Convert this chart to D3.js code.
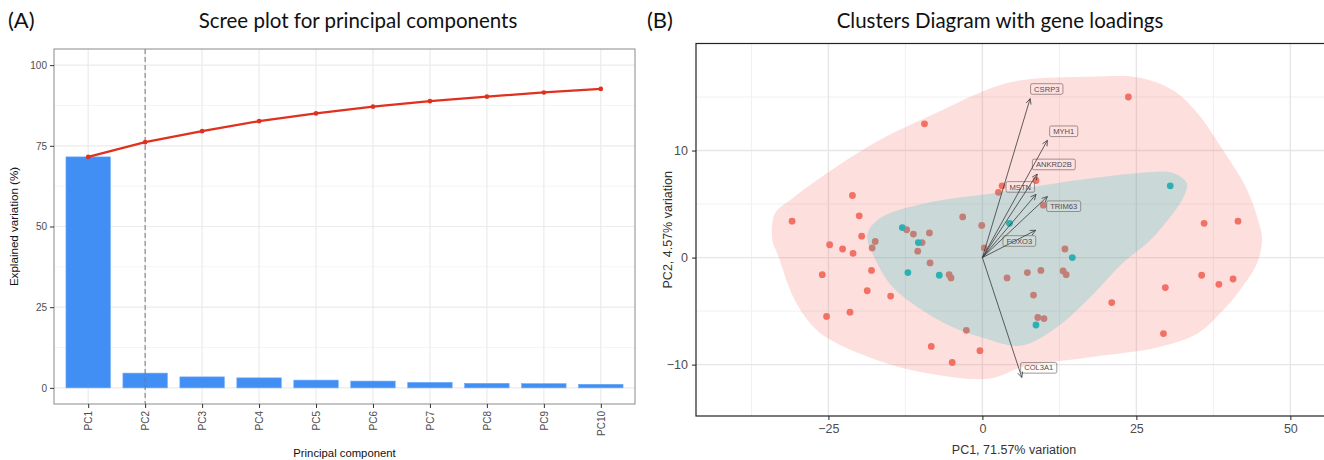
<!DOCTYPE html>
<html><head><meta charset="utf-8">
<script src="https://cdn.jsdelivr.net/npm/d3@7"></script>
<style>
body{margin:0;background:#fff;}
svg{display:block;}
text{font-family:"Liberation Sans",Arial,sans-serif;}
.ttl{font-family:Lato,"Open Sans",sans-serif;}
</style></head>
<body>
<svg id="c" width="1324" height="460"></svg>
<script>
// ---------- Data: scree plot ----------
const pcs = ["PC1","PC2","PC3","PC4","PC5","PC6","PC7","PC8","PC9","PC10"];
const variance = [71.57, 4.57, 3.4, 3.1, 2.4, 2.1, 1.7, 1.4, 1.3, 1.1];
const screeTicks = [0, 25, 50, 75, 100];
const screeMinor = [12.5, 37.5, 62.5, 87.5];
const cutoffPC = "PC2";

// ---------- Data: biplot ----------
const redX = [-9.4,-21.1,-30.9,-20.0,-19.6,-24.8,-22.7,-21.0,-12.3,-11.2,-8.6,-3.2,-0.1,-9.8,-17.4,-17.9,-10.5,-8.5,-5.4,-5.1,-26.0,-18.0,-18.7,-14.9,-25.3,-21.5,-2.6,-8.3,-4.9,-0.4,0.3,2.6,3.2,8.7,9.9,13.4,4.0,7.3,9.5,13.1,13.6,8.3,9.0,10.0,21.0,29.7,29.4,35.6,38.4,40.7,23.7,36.0,41.5];
const redY = [12.5,5.8,3.4,3.9,2.0,1.2,0.8,0.4,2.6,2.2,2.3,3.8,3.0,1.4,1.5,0.9,0.6,-0.5,-1.6,-1.9,-1.6,-1.2,-3.1,-3.6,-5.5,-5.1,-6.8,-8.3,-9.8,-8.7,0.9,6.1,6.7,7.2,4.9,0.8,-1.9,-1.4,-1.2,-1.25,-1.6,-3.5,-5.6,-5.7,-4.2,-2.8,-7.1,-1.65,-2.5,-2.0,15.0,3.2,3.4];
const tealX = [-13.0,-10.4,-12.1,-7.0,4.4,14.6,8.7,30.5];
const tealY = [2.8,1.4,-1.4,-1.65,3.2,0.0,-6.3,6.7];

// hull outlines (data units)
const redHullX = [-34.1,-33.7,-30.7,-25.2,-16.6,-9.0,1.25,6.6,17.5,25.6,31.0,34.9,39.1,43.0,45.1,45.4,44.6,41.8,39.1,34.9,28.4,17.5,6.6,1.25,-9.0,-17.1,-25.2,-28.0,-30.7,-33.3];
const redHullY = [1.6,4.1,5.6,7.9,11.0,13.1,15.8,16.6,16.9,16.8,15.6,13.5,10.0,6.3,2.8,1.6,-0.5,-3.05,-4.9,-7.1,-8.4,-9.3,-10.2,-11.3,-10.8,-9.6,-7.5,-6.1,-3.7,0.4];
const tealHullX = [-18.7,-16.6,-9.0,1.7,12.6,19.1,25.6,31.0,33.2,32.6,30.5,27.2,22.8,17.5,12.1,6.6,2.9,1.25,-3.6,-9.0,-14.5,-17.1];
const tealHullY = [2.1,3.7,5.1,6.0,7.0,7.5,7.9,7.9,6.9,5.6,3.8,1.6,-0.5,-3.7,-6.5,-8.2,-8.0,-7.7,-6.8,-5.2,-2.8,-0.5];

const genes = ["CSRP3","MYH1","ANKRD2B","MSTN","TRIM63","FOXO3","COL3A1"];
const loadX = [7.75, 10.55, 8.9, 8.7, 10.55, 8.65, 6.4];
const loadY = [14.85, 10.95, 7.8, 5.9, 5.7, 2.55, -11.2];
const labelX = [10.45, 13.2, 11.6, 6.15, 13.2, 6.0, 9.15];
const labelY = [15.75, 11.8, 8.7, 6.6, 4.8, 1.55, -10.3];

const bxTicks = [-25, 0, 25, 50];
const bxMinor = [-37.5, -12.5, 12.5, 37.5];
const byTicks = [-10, 0, 10];
const byMinor = [-5, 5, 15];

const svg = d3.select("#c");

// ================= Panel A =================
const A = {l:54, r:635, t:49, b:404};
const xA = d3.scalePoint().domain(pcs).range([A.l, A.r]).padding(0.6);
const yA = d3.scaleLinear().domain([-5, 105]).range([A.b, A.t]);
const stepA = xA.step();
const gA = svg.append("g");

gA.selectAll(".mny").data(screeMinor).join("line")
  .attr("x1",A.l).attr("x2",A.r).attr("y1",d=>yA(d)).attr("y2",d=>yA(d))
  .attr("stroke","#f4f4f4").attr("stroke-width",1);
gA.selectAll(".mjy").data(screeTicks).join("line")
  .attr("x1",A.l).attr("x2",A.r).attr("y1",d=>yA(d)).attr("y2",d=>yA(d))
  .attr("stroke","#ebebeb").attr("stroke-width",1.2);
gA.selectAll(".mjx").data(pcs).join("line")
  .attr("x1",d=>xA(d)).attr("x2",d=>xA(d)).attr("y1",A.t).attr("y2",A.b)
  .attr("stroke","#ebebeb").attr("stroke-width",1.2);

const bw = stepA*0.78;
gA.selectAll(".bar").data(pcs).join("rect")
  .attr("x",d=>xA(d)-bw/2).attr("width",bw)
  .attr("y",(d,i)=>yA(variance[i])).attr("height",(d,i)=>yA(0)-yA(variance[i]))
  .attr("fill","#418ff5").attr("stroke","#6aa8f7").attr("stroke-width",0.6);

gA.append("line").attr("x1",xA(cutoffPC)).attr("x2",xA(cutoffPC)).attr("y1",A.t).attr("y2",A.b)
  .attr("stroke","#777").attr("stroke-width",1).attr("stroke-dasharray","5,3");

const cum = Array.from(d3.cumsum(variance));
gA.append("path").datum(cum)
  .attr("d", d3.line().x((d,i)=>xA(pcs[i])).y(d=>yA(d)))
  .attr("fill","none").attr("stroke","#e0301e").attr("stroke-width",2.2);
gA.selectAll(".cpt").data(cum).join("circle")
  .attr("cx",(d,i)=>xA(pcs[i])).attr("cy",d=>yA(d)).attr("r",2.3).attr("fill","#e0301e");

gA.append("rect").attr("x",A.l).attr("y",A.t).attr("width",A.r-A.l).attr("height",A.b-A.t)
  .attr("fill","none").attr("stroke","#8a8a8a").attr("stroke-width",1);

const axAY = gA.append("g").attr("transform",`translate(${A.l},0)`)
  .call(d3.axisLeft(yA).tickValues(screeTicks).tickSize(4).tickPadding(3));
axAY.select(".domain").remove();
axAY.selectAll("line").attr("stroke","#333");
axAY.selectAll("text").attr("font-size",10).attr("fill","#4d4d4d").attr("font-family","Liberation Sans");

const axAX = gA.append("g").attr("transform",`translate(0,${A.b})`)
  .call(d3.axisBottom(xA).tickSize(4).tickPadding(3));
axAX.select(".domain").remove();
axAX.selectAll("line").attr("stroke","#333");
axAX.selectAll("text").attr("font-size",10).attr("fill","#4d4d4d").attr("font-family","Liberation Sans")
  .attr("transform","rotate(-90)").attr("text-anchor","end").attr("dy","0.35em").attr("x",-7).attr("y",0);

gA.append("text").attr("x",(A.l+A.r)/2).attr("y",457).attr("text-anchor","middle")
  .attr("font-size",11.3).attr("fill","#111").text("Principal component");
gA.append("text").attr("transform",`translate(18,${(A.t+A.b)/2}) rotate(-90)`).attr("text-anchor","middle")
  .attr("font-size",11.6).attr("fill","#111").text("Explained variation (%)");
gA.append("text").attr("class","ttl").attr("x",358).attr("y",28).attr("text-anchor","middle")
  .attr("font-size",20.5).attr("fill","#111").text("Scree plot for principal components");
gA.append("text").attr("class","ttl").attr("x",8).attr("y",28)
  .attr("font-size",22).attr("fill","#111").text("(A)");

// ================= Panel B =================
const B = {l:696, r:1331, t:43.5, b:416};
const xB = d3.scaleLinear().domain([-46.5, 56.6]).range([B.l, B.r]);
const yB = d3.scaleLinear().domain([-14.8, 20]).range([B.b, B.t]);
const gB = svg.append("g");
gB.append("defs").append("clipPath").attr("id","clipB").append("rect")
  .attr("x",B.l).attr("y",B.t).attr("width",B.r-B.l).attr("height",B.b-B.t);
const inner = gB.append("g").attr("clip-path","url(#clipB)");

inner.selectAll(".bmx").data(bxMinor).join("line")
  .attr("x1",d=>xB(d)).attr("x2",d=>xB(d)).attr("y1",B.t).attr("y2",B.b).attr("stroke","#f0f0f0").attr("stroke-width",1);
inner.selectAll(".bmy").data(byMinor).join("line")
  .attr("y1",d=>yB(d)).attr("y2",d=>yB(d)).attr("x1",B.l).attr("x2",B.r).attr("stroke","#f0f0f0").attr("stroke-width",1);
inner.selectAll(".bjx").data(bxTicks).join("line")
  .attr("x1",d=>xB(d)).attr("x2",d=>xB(d)).attr("y1",B.t).attr("y2",B.b).attr("stroke","#e6e6e6").attr("stroke-width",1.4);
inner.selectAll(".bjy").data(byTicks).join("line")
  .attr("y1",d=>yB(d)).attr("y2",d=>yB(d)).attr("x1",B.l).attr("x2",B.r).attr("stroke","#e6e6e6").attr("stroke-width",1.4);

inner.selectAll(".rp").data(redX).join("circle")
  .attr("cx",d=>xB(d)).attr("cy",(d,i)=>yB(redY[i])).attr("r",3.4).attr("fill","#f26f63");
inner.selectAll(".tp").data(tealX).join("circle")
  .attr("cx",d=>xB(d)).attr("cy",(d,i)=>yB(tealY[i])).attr("r",3.4).attr("fill","#00bfc4");

const hull = d3.line().x(d=>xB(d[0])).y(d=>yB(d[1])).curve(d3.curveCatmullRomClosed.alpha(0.5));
inner.append("path").attr("d",hull(redHullX.map((x,i)=>[x,redHullY[i]])))
  .attr("fill","#F8766D").attr("fill-opacity",0.23);
inner.append("path").attr("d",hull(tealHullX.map((x,i)=>[x,tealHullY[i]])))
  .attr("fill","#00BFC4").attr("fill-opacity",0.2);

// labels (drawn beneath arrows)
genes.forEach((g,i)=>{
  const cx = xB(labelX[i]), cy = yB(labelY[i]);
  const t = inner.append("text").attr("x",cx).attr("y",cy).attr("dy","0.35em")
    .attr("text-anchor","middle").attr("font-size",7.6).attr("fill","#5a4848").text(g);
  const w = t.node().getComputedTextLength() + 7;
  inner.insert("rect", () => t.node()).attr("x",cx-w/2).attr("y",cy-5.3).attr("width",w).attr("height",10.6)
    .attr("rx",1.6).attr("fill","#ffffff").attr("fill-opacity",0.12).attr("stroke","#7a6a6a").attr("stroke-width",0.7);
});
// arrows
const ox = xB(0), oy = yB(0);
genes.forEach((g,i)=>{
  const tx = xB(loadX[i]), ty = yB(loadY[i]);
  inner.append("line").attr("x1",ox).attr("y1",oy).attr("x2",tx).attr("y2",ty)
    .attr("stroke","#3a3a3a").attr("stroke-width",0.8);
  const ang = Math.atan2(ty-oy, tx-ox), L = 6, w = Math.PI/7;
  const p1 = [tx - L*Math.cos(ang-w), ty - L*Math.sin(ang-w)];
  const p2 = [tx - L*Math.cos(ang+w), ty - L*Math.sin(ang+w)];
  inner.append("path").attr("d",`M${p1[0]},${p1[1]}L${tx},${ty}L${p2[0]},${p2[1]}`)
    .attr("fill","none").attr("stroke","#3a3a3a").attr("stroke-width",0.8);
});

gB.append("rect").attr("x",B.l).attr("y",B.t).attr("width",B.r-B.l).attr("height",B.b-B.t)
  .attr("fill","none").attr("stroke","#222").attr("stroke-width",1.2);

const axBY = gB.append("g").attr("transform",`translate(${B.l},0)`)
  .call(d3.axisLeft(yB).tickValues(byTicks).tickSize(4).tickPadding(4));
axBY.select(".domain").remove();
axBY.selectAll("line").attr("stroke","#222");
axBY.selectAll("text").attr("font-size",12.5).attr("fill","#4d4d4d").attr("font-family","Liberation Sans");

const axBX = gB.append("g").attr("transform",`translate(0,${B.b})`)
  .call(d3.axisBottom(xB).tickValues(bxTicks).tickSize(4).tickPadding(4));
axBX.select(".domain").remove();
axBX.selectAll("line").attr("stroke","#222");
axBX.selectAll("text").attr("font-size",12.5).attr("fill","#4d4d4d").attr("font-family","Liberation Sans");

gB.append("text").attr("x",1014).attr("y",454).attr("text-anchor","middle")
  .attr("font-size",12.5).attr("fill","#333").text("PC1, 71.57% variation");
gB.append("text").attr("transform",`translate(672,${(B.t+B.b)/2}) rotate(-90)`).attr("text-anchor","middle")
  .attr("font-size",12.5).attr("fill","#333").text("PC2, 4.57% variation");
gB.append("text").attr("class","ttl").attr("x",1000).attr("y",28).attr("text-anchor","middle")
  .attr("font-size",20.5).attr("fill","#111").text("Clusters Diagram with gene loadings");
gB.append("text").attr("class","ttl").attr("x",647).attr("y",28)
  .attr("font-size",22).attr("fill","#111").text("(B)");
</script>
</body></html>
